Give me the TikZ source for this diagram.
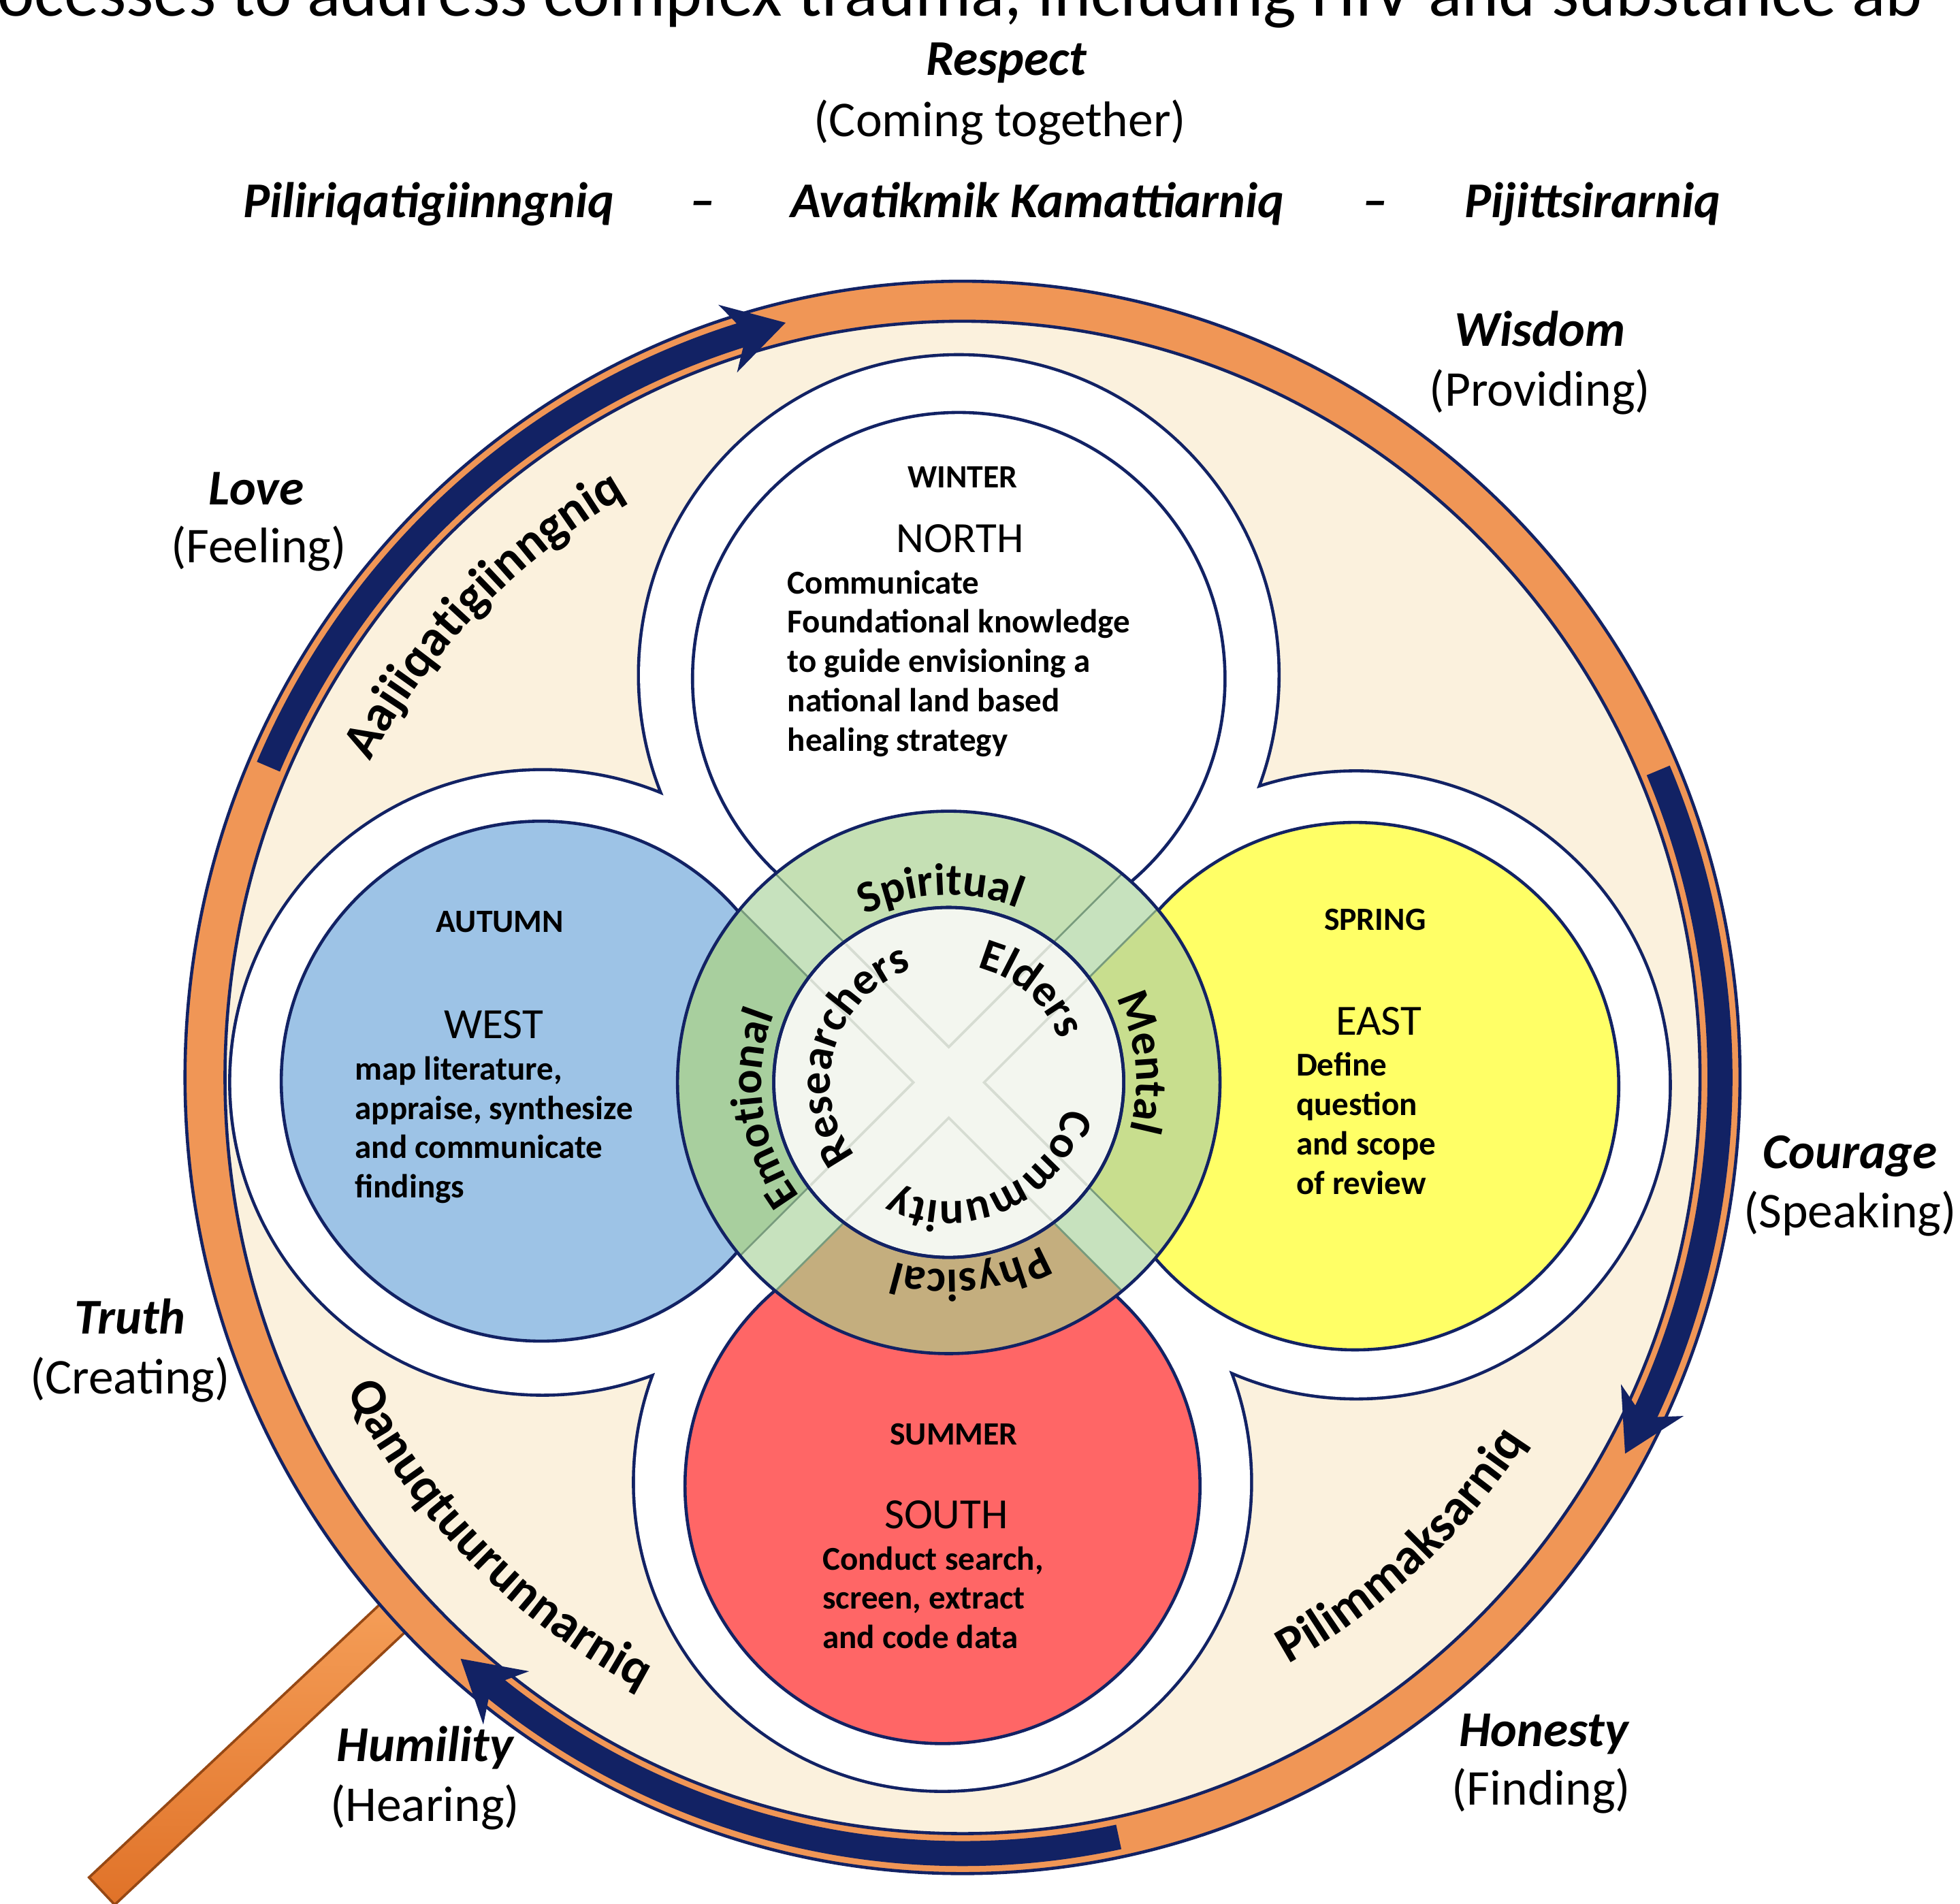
\documentclass[tikz,border=0pt]{standalone}
\usepackage{fontspec}
\setmainfont{Carlito}
\usetikzlibrary{arrows.meta,bending,decorations.text}
\definecolor{navy}{RGB}{18,34,100}
\definecolor{bandorange}{RGB}{240,150,86}
\definecolor{cream}{RGB}{251,241,221}
\definecolor{petalblue}{RGB}{157,195,230}
\definecolor{petalyellow}{RGB}{255,255,102}
\definecolor{petalred}{RGB}{255,102,102}
\definecolor{spiritgreen}{RGB}{197,224,180}
\definecolor{mentalgreen}{RGB}{200,222,142}
\definecolor{physicaltan}{RGB}{196,174,126}
\definecolor{emogreen}{RGB}{168,207,158}
\definecolor{stripgreen}{RGB}{199,226,190}
\definecolor{stripedge}{RGB}{120,155,125}
\definecolor{centerwhite}{RGB}{243,246,239}
\definecolor{faintline}{RGB}{214,220,210}
\definecolor{handleA}{RGB}{246,160,90}
\definecolor{handleB}{RGB}{224,114,40}
\definecolor{handleedge}{RGB}{150,72,20}
\newcommand\fsTop{\fontsize{31.9}{36}\selectfont}
\newcommand\fsSide{\fontsize{22.8}{26}\selectfont}
\newcommand\fsCurve{\bfseries\fontsize{23.3}{26}\selectfont}
\newcommand\fsRing{\bfseries\fontsize{20.6}{24}\selectfont}
\newcommand\fsDir{\fontsize{19.6}{22}\selectfont}
\newcommand\fsSeason{\bfseries\fontsize{14.8}{18}\selectfont}
\newcommand\fsBody{\bfseries\fontsize{15.2}{17.9}\selectfont}
\begin{document}
\begin{tikzpicture}[x=0.02cm, y=-0.02cm,
  every node/.style={inner sep=0pt, outer sep=0pt},
  virtue/.style={font=\fsSide\bfseries\itshape, anchor=base},
  virtuesub/.style={font=\fsSide, anchor=base},
  season/.style={font=\fsSeason, anchor=base},
  direction/.style={font=\fsDir, anchor=base},
  navyline/.style={draw=navy, line width=0.05cm},
  ringarrow/.style={draw=navy, line width=0.4cm, -{Stealth[length=0.95cm, width=1.1cm, inset=0.3cm]}},
  ringtext/.style={decorate, decoration={text along path, text align=center, text={|\fsRing|#1}}},
  curvetext/.style={decorate, decoration={text along path, text align=center, text={|\fsCurve|#1}}}
]
\path[use as bounding box, fill=white] (0,0) rectangle (1568,1523);

% cut-off line of text at the top
\node[font=\fsTop, anchor=base west] (toptext) at (-2,13) {ocesses to address complex trauma, including HIV and substance ab};

% header
\node[virtue] (respect) at (805,60) {Respect};
\node[virtuesub] (coming) at (800,109) {(Coming together)};
\node[virtue] (pili) at (343,174) {Piliriqatigiinngniq};
\node[virtue] (dashA) at (562,174) {–};
\node[virtue] (avat) at (830,174) {Avatikmik Kamattiarniq};
\node[virtue] (dashB) at (1100,174) {–};
\node[virtue] (pij) at (1274,174) {Pijittsirarniq};

% handle
\begin{scope}[shift={(81.5,1513)}, rotate=43.2]
  \draw[draw=handleedge, line width=0.04cm, top color=handleA, bottom color=handleB] (0,-15) rectangle (340,15);
\end{scope}

% outer orange ring
\fill[bandorange] (770,862) ellipse [x radius=622, y radius=637];
\draw[navyline] (770,862) ellipse [x radius=622, y radius=637];
\filldraw[fill=cream, navyline] (770,862) ellipse [x radius=590, y radius=605];

% arrows in the band
\draw[ringarrow] (770,862) ++(203.6:606 and 621) arc[start angle=203.6, end angle=256.5, x radius=606, y radius=621];
\draw[ringarrow] (770,862) ++(-23.3:606 and 621) arc[start angle=-23.3, end angle=29, x radius=606, y radius=621];
\draw[ringarrow] (770,862) ++(78.1:606 and 621) arc[start angle=78.1, end angle=131.5, x radius=606, y radius=621];

% curved words in the cream band
\path[curvetext=Aajiiqatigiinngniq] (770,862) ++(184:537) arc[start angle=184, end angle=264, radius=537];
\path[curvetext=Qanuqtuurunnarniq] (770,862) ++(175.4:553) arc[start angle=175.4, end angle=95.4, radius=553];
\path[curvetext=Pilimmaksarniq] (770,862) ++(86.9:537) arc[start angle=86.9, end angle=6.9, radius=537];

% petals: white outer union
\path[draw=navy, line width=0.1cm] (767,540) circle[radius=255] (434,866) circle[radius=249] (1085,868) circle[radius=250] (754,1186) circle[radius=246];
\path[fill=white] (767,540) circle[radius=255] (434,866) circle[radius=249] (1085,868) circle[radius=250] (754,1186) circle[radius=246];
% petals: inner circles
\filldraw[fill=white, navyline] (767,543) circle[radius=213];
\filldraw[fill=petalblue, navyline] (433,865) circle[radius=208];
\filldraw[fill=petalyellow, navyline] (1084,869) circle[radius=211];
\filldraw[fill=petalred, navyline] (754,1189) circle[radius=206];

% centre ring
\begin{scope}[shift={(759,866)}]
  \fill[spiritgreen] (0,0) -- (225:217) arc[start angle=225, end angle=315, radius=217] -- cycle;
  \fill[mentalgreen] (0,0) -- (-45:217) arc[start angle=-45, end angle=45, radius=217] -- cycle;
  \fill[physicaltan] (0,0) -- (45:217) arc[start angle=45, end angle=135, radius=217] -- cycle;
  \fill[emogreen] (0,0) -- (135:217) arc[start angle=135, end angle=225, radius=217] -- cycle;
  \begin{scope}
    \clip (0,0) circle[radius=217];
    \begin{scope}[rotate=45]
      \filldraw[fill=stripgreen, draw=stripedge, line width=0.03cm]
        (240,20) -- (20,20) -- (20,240) -- (-20,240) -- (-20,20) -- (-240,20) -- (-240,-20) -- (-20,-20) -- (-20,-240) -- (20,-240) -- (20,-20) -- (240,-20) -- cycle;
    \end{scope}
  \end{scope}
  \filldraw[fill=centerwhite, navyline] (0,0) circle[radius=140];
  \begin{scope}
    \clip (0,0) circle[radius=138];
    \begin{scope}[rotate=45]
      \draw[faintline, line width=0.04cm]
        (240,20) -- (20,20) -- (20,240) -- (-20,240) -- (-20,20) -- (-240,20) -- (-240,-20) -- (-20,-20) -- (-20,-240) -- (20,-240) -- (20,-20) -- (240,-20) -- cycle;
    \end{scope}
  \end{scope}
  \draw[navyline] (0,0) circle[radius=140];
  \draw[navyline] (0,0) circle[radius=217];
  % ring words
  \path[ringtext=Spiritual] (0,0) ++(-152.5:150) arc[start angle=-152.5, end angle=-32.5, radius=150];
  \path[ringtext=Mental] (0,0) ++(-66:150) arc[start angle=-66, end angle=54, radius=150];
  \path[ringtext=Physical] (0,0) ++(23.5:150) arc[start angle=23.5, end angle=143.5, radius=150];
  \path[ringtext=Emotional] (0,0) ++(112:150) arc[start angle=112, end angle=232, radius=150];
  % inner words
  \path[ringtext=Researchers] (0,0) ++(117:95) arc[start angle=117, end angle=277, radius=95];
  \path[ringtext=Elders] (0,0) ++(-110:95) arc[start angle=-110, end angle=13, radius=95];
  \path[ringtext=Community] (0,0) ++(-10:95) arc[start angle=-10, end angle=140, radius=95];
\end{scope}

% petal texts
\node[season] (winter) at (770,390) {WINTER};
\node[direction] (north) at (768,442) {NORTH};
\node[anchor=base west] (northtext) at (630,475) {\fsBody\begin{tabular}[t]{@{}l@{}}Communicate\\Foundational knowledge\\to guide envisioning a\\national land based\\healing strategy\end{tabular}};

\node[season] (autumn) at (400,746) {AUTUMN};
\node[direction] (west) at (395,831) {WEST};
\node[anchor=base west] (westtext) at (284,864) {\fsBody\begin{tabular}[t]{@{}l@{}}map literature,\\appraise, synthesize\\and communicate\\findings\end{tabular}};

\node[season] (spring) at (1100,744) {SPRING};
\node[direction] (east) at (1103,828) {EAST};
\node[anchor=base west] (easttext) at (1037,861) {\fsBody\begin{tabular}[t]{@{}l@{}}Define\\question\\and scope\\of review\end{tabular}};

\node[season] (summer) at (763,1156) {SUMMER};
\node[direction] (south) at (757,1223) {SOUTH};
\node[anchor=base west] (southtext) at (658,1256) {\fsBody\begin{tabular}[t]{@{}l@{}}Conduct search,\\screen, extract\\and code data\end{tabular}};

% virtues around the circle
\node[virtue] (wisdom) at (1232,277) {Wisdom};
\node[virtuesub] (providing) at (1232,325) {(Providing)};
\node[virtue] (love) at (205,404) {Love};
\node[virtuesub] (feeling) at (207,450) {(Feeling)};
\node[virtue] (courage) at (1480,935) {Courage};
\node[virtuesub] (speaking) at (1480,982) {(Speaking)};
\node[virtue] (truth) at (104,1067) {Truth};
\node[virtuesub] (creating) at (104,1115) {(Creating)};
\node[virtue] (humility) at (340,1409) {Humility};
\node[virtuesub] (hearing) at (340,1457) {(Hearing)};
\node[virtue] (honesty) at (1235,1397) {Honesty};
\node[virtuesub] (finding) at (1233,1444) {(Finding)};
\end{tikzpicture}
\end{document}
